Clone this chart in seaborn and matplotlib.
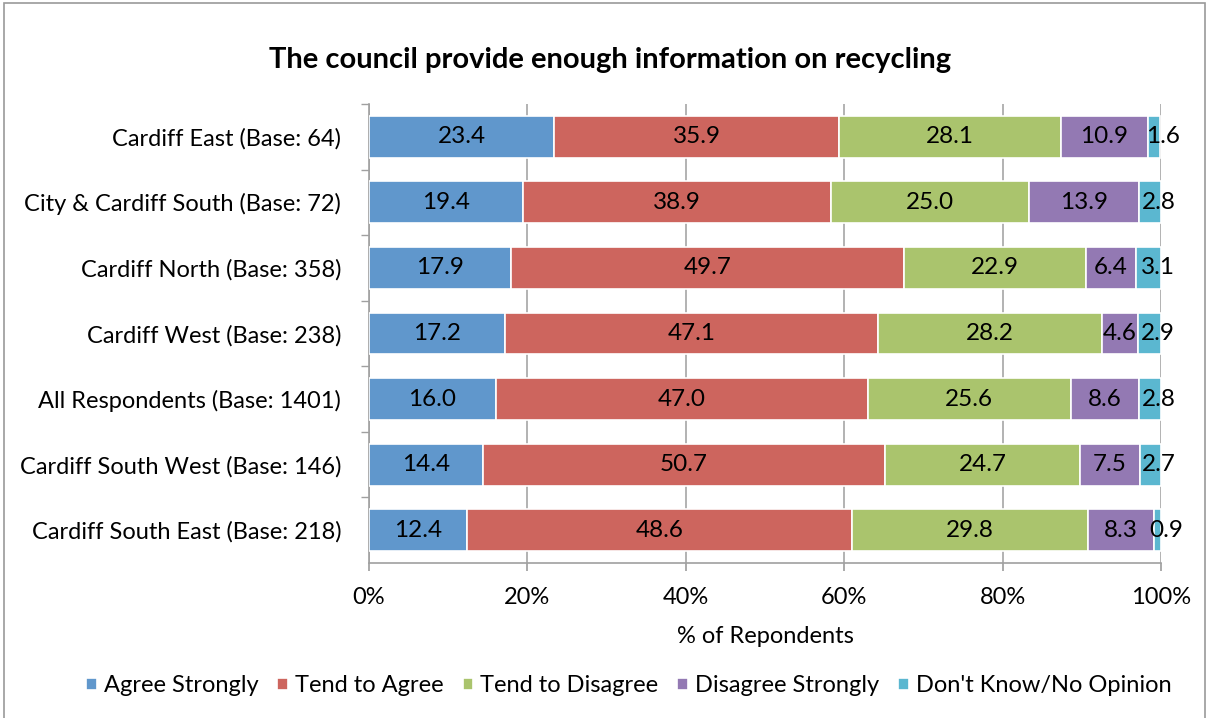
import pandas as pd
import numpy as np
import matplotlib
matplotlib.use("Agg")
import matplotlib.pyplot as plt
import seaborn as sns
from matplotlib.patches import Rectangle

# Data
areas = [
    "Cardiff East (Base: 64)",
    "City & Cardiff South (Base: 72)",
    "Cardiff North (Base: 358)",
    "Cardiff West (Base: 238)",
    "All Respondents (Base: 1401)",
    "Cardiff South West (Base: 146)",
    "Cardiff South East (Base: 218)",
]
agree_strongly = [23.4, 19.4, 17.9, 17.2, 16.0, 14.4, 12.4]
tend_to_agree = [35.9, 38.9, 49.7, 47.1, 47.0, 50.7, 48.6]
tend_to_disagree = [28.1, 25.0, 22.9, 28.2, 25.6, 24.7, 29.8]
disagree_strongly = [10.9, 13.9, 6.4, 4.6, 8.6, 7.5, 8.3]
dont_know = [1.6, 2.8, 3.1, 2.9, 2.8, 2.7, 0.9]

responses = ["Agree Strongly", "Tend to Agree", "Tend to Disagree",
             "Disagree Strongly", "Don't Know/No Opinion"]
colors = ["#6097CC", "#CD655E", "#AAC46D", "#9379B3", "#5BB7D0"]

df = pd.DataFrame({
    "area": areas,
    "Agree Strongly": agree_strongly,
    "Tend to Agree": tend_to_agree,
    "Tend to Disagree": tend_to_disagree,
    "Disagree Strongly": disagree_strongly,
    "Don't Know/No Opinion": dont_know,
})

sns.set_theme(style="white")
plt.rcParams["font.family"] = ["Lato", "DejaVu Sans"]
plt.rcParams["text.color"] = "black"
plt.rcParams["axes.labelcolor"] = "black"
plt.rcParams["xtick.labelcolor"] = "black"
plt.rcParams["ytick.labelcolor"] = "black"

fig = plt.figure(figsize=(12.09, 7.18), dpi=100)
ax = fig.add_axes([0.3052, 1 - 563 / 718, 0.6551, (563 - 104) / 718])

# stacked bars: each layer starts where the previous ended
left = np.zeros(len(df))
for k, (resp, col) in enumerate(zip(responses, colors)):
    sns.barplot(data=df, x=resp, y="area", orient="h", color=col,
                saturation=1, left=left, width=0.64, edgecolor="white",
                linewidth=1.2, ax=ax, zorder=3, label=resp)
    # the thin last segment has its label nudged right, as in the original
    shift = 1.1 if k == len(responses) - 1 else 0
    for i, (l, v) in enumerate(zip(left, df[resp])):
        ax.text(l + v / 2 + shift, i, f"{v:.1f}", ha="center", va="center",
                fontsize=17.5, color="black", zorder=4)
    left = left + df[resp].values

ax.set_xlim(0, 100)
ax.set_ylim(len(df) - 0.5, -0.5)
ax.set_xticks([0, 20, 40, 60, 80, 100])
ax.set_xticklabels(["0%", "20%", "40%", "60%", "80%", "100%"])
ax.set_xlabel("% of Repondents", fontsize=17, labelpad=13)
ax.set_ylabel("")
ax.tick_params(axis="x", labelsize=17, length=6, color="#A0A0A0",
               direction="out", bottom=True, pad=11)
ax.tick_params(axis="y", labelsize=17, length=0, pad=20)
ax.set_yticks(np.arange(len(df)) - 0.5, minor=True)
ax.tick_params(axis="y", which="minor", length=6, color="#A0A0A0",
               direction="out", left=True)

ax.grid(axis="x", color="#A6A6A6", linewidth=1.2, zorder=0)
ax.set_axisbelow(True)
for s in ["top", "right"]:
    ax.spines[s].set_visible(False)
for s in ["left", "bottom"]:
    ax.spines[s].set_color("#A0A0A0")
    ax.spines[s].set_linewidth(1.2)

fig.text(0.505, 1 - 60 / 718, "The council provide enough information on recycling",
         fontsize=21, fontweight="bold", ha="center", va="center")

handles, labels = ax.get_legend_handles_labels()
ax.legend(handles[:5], labels[:5], loc="center",
          bbox_to_anchor=(0.52, 1 - 686 / 718), bbox_transform=fig.transFigure,
          ncol=5, frameon=False, fontsize=17, handlelength=0.45,
          handleheight=0.45, handletextpad=0.3, columnspacing=0.8)

fig.patches.append(Rectangle((0.003, -0.01), 0.994, 1.006,
                             transform=fig.transFigure, fill=False,
                             edgecolor="#9A9A9A", linewidth=1.2))

fig.savefig("out.png", dpi=100)
